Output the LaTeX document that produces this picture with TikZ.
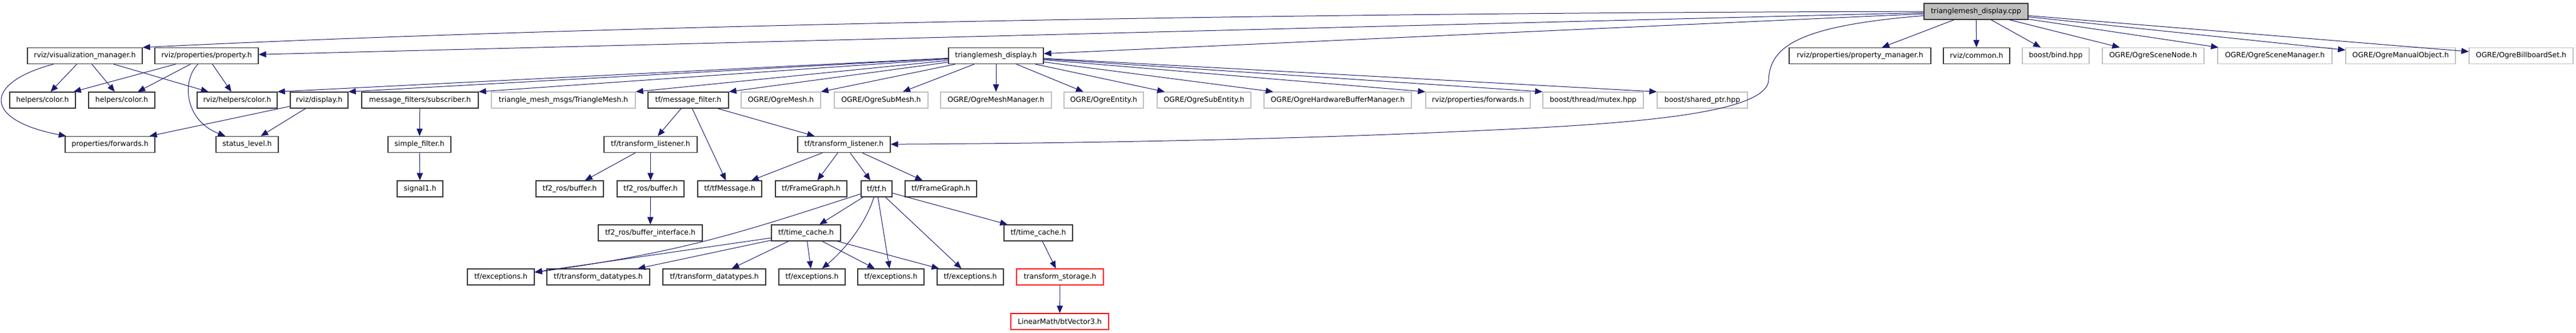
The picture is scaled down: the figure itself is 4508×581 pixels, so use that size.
\documentclass[tikz,border=0pt]{standalone}
\usepackage{fontspec}
\setmainfont{DejaVu Sans}
\usetikzlibrary{arrows.meta}
\definecolor{edgeblue}{HTML}{191970}
\definecolor{grayb}{HTML}{BFBFBF}
\definecolor{redb}{HTML}{FF0000}
\definecolor{boxline}{HTML}{333333}
\begin{document}
\begin{tikzpicture}[x=1pt,y=-1pt,
  box/.style={draw=boxline, line width=1.3pt, fill=white, minimum height=28pt, inner sep=0pt, font=\fontsize{12.5}{15}\selectfont, text=black},
  gbox/.style={box, draw=grayb},
  rbox/.style={box, draw=redb},
  edge/.style={draw=edgeblue, line width=1pt, -{Triangle[length=13pt,width=10.5pt]}}]
\fill[white] (0,0) rectangle (4508,581);
\useasboundingbox (0,0) rectangle (4508,581);
% row A
\node[box, fill=grayb, minimum width=182pt] (cpp) at (3458,20) {trianglemesh\_display.cpp};
% row B
\node[box, minimum width=201pt] (vm) at (148.5,97.5) {rviz/visualization\_manager.h};
\node[box, minimum width=181pt] (prop) at (361.5,97.5) {rviz/properties/property.h};
\node[box, minimum width=166pt] (tmd) at (1743,97.5) {trianglemesh\_display.h};
\node[box, minimum width=248pt] (pm) at (3255,97.5) {rviz/properties/property\_manager.h};
\node[box, minimum width=116pt] (common) at (3459,97.5) {rviz/common.h};
\node[gbox, minimum width=117pt] (bind) at (3597.5,97.5) {boost/bind.hpp};
\node[gbox, minimum width=178pt] (scenenode) at (3768,97.5) {OGRE/OgreSceneNode.h};
\node[gbox, minimum width=200pt] (scenemgr) at (3981,97.5) {OGRE/OgreSceneManager.h};
\node[gbox, minimum width=192pt] (manual) at (4201,97.5) {OGRE/OgreManualObject.h};
\node[gbox, minimum width=182pt] (billboard) at (4412,97.5) {OGRE/OgreBillboardSet.h};
% row C
\node[box, minimum width=115pt] (hc1) at (74.5,175) {helpers/color.h};
\node[box, minimum width=116pt] (hc2) at (213,175) {helpers/color.h};
\node[box, minimum width=140pt] (rhc) at (415,175) {rviz/helpers/color.h};
\node[box, minimum width=101pt] (disp) at (558.5,175) {rviz/display.h};
\node[box, minimum width=204pt] (sub) at (735,175) {message\_filters/subscriber.h};
\node[gbox, minimum width=252pt] (tmsg) at (986,175) {triangle\_mesh\_msgs/TriangleMesh.h};
\node[box, minimum width=141pt] (mf) at (1204.5,175) {tf/message\_filter.h};
\node[gbox, minimum width=139pt] (mesh) at (1366.5,175) {OGRE/OgreMesh.h};
\node[gbox, minimum width=164pt] (submesh) at (1542,175) {OGRE/OgreSubMesh.h};
\node[gbox, minimum width=194pt] (meshmgr) at (1743,175) {OGRE/OgreMeshManager.h};
\node[gbox, minimum width=139pt] (entity) at (1931.5,175) {OGRE/OgreEntity.h};
\node[gbox, minimum width=164pt] (subentity) at (2107,175) {OGRE/OgreSubEntity.h};
\node[gbox, minimum width=258pt] (hwbuf) at (2341,175) {OGRE/OgreHardwareBufferManager.h};
\node[gbox, minimum width=183pt] (rpf) at (2586.5,175) {rviz/properties/forwards.h};
\node[gbox, minimum width=176pt] (mutex) at (2788,175) {boost/thread/mutex.hpp};
\node[gbox, minimum width=158pt] (sptr) at (2979,175) {boost/shared\_ptr.hpp};
% row D
\node[box, minimum width=157pt] (pf) at (192.5,252.5) {properties/forwards.h};
\node[box, minimum width=109pt] (sl) at (432.5,252.5) {status\_level.h};
\node[box, minimum width=110pt] (sf) at (734,252.5) {simple\_filter.h};
\node[box, minimum width=163pt] (tl1) at (1138.5,252.5) {tf/transform\_listener.h};
\node[box, minimum width=162pt] (tl2) at (1477,252.5) {tf/transform\_listener.h};
% row E
\node[box, minimum width=80pt] (sig) at (735,330) {signal1.h};
\node[box, minimum width=118pt] (b1) at (997,330) {tf2\_ros/buffer.h};
\node[box, minimum width=117pt] (b2) at (1138.5,330) {tf2\_ros/buffer.h};
\node[box, minimum width=112pt] (tfm) at (1277,330) {tf/tfMessage.h};
\node[box, minimum width=125pt] (fg1) at (1419.5,330) {tf/FrameGraph.h};
\node[box, minimum width=54pt] (tf) at (1534,330) {tf/tf.h};
\node[box, minimum width=125pt] (fg2) at (1646.5,330) {tf/FrameGraph.h};
% row F
\node[box, minimum width=182pt] (bi) at (1138,407) {tf2\_ros/buffer\_interface.h};
\node[box, minimum width=121pt] (tc1) at (1410.5,407) {tf/time\_cache.h};
\node[box, minimum width=120pt] (tc2) at (1817,407) {tf/time\_cache.h};
% row G
\node[box, minimum width=117pt] (ex1) at (876.5,484) {tf/exceptions.h};
\node[box, minimum width=180pt] (td1) at (1047,484) {tf/transform\_datatypes.h};
\node[box, minimum width=180pt] (td2) at (1250,484) {tf/transform\_datatypes.h};
\node[box, minimum width=116pt] (ex2) at (1421,484) {tf/exceptions.h};
\node[box, minimum width=116pt] (ex3) at (1559,484) {tf/exceptions.h};
\node[box, minimum width=116pt] (ex4) at (1698,484) {tf/exceptions.h};
\node[rbox, minimum width=152pt] (ts) at (1855,484) {transform\_storage.h};
% row H
\node[rbox, minimum width=171pt] (lm) at (1854.5,562) {LinearMath/btVector3.h};
% edges from cpp
\draw[edge] (cpp) .. controls (2200,22) and (1000,46) .. (vm.north east);
\draw[edge] (cpp) -- (prop);
\draw[edge] (cpp) -- (tmd);
\draw[edge] (cpp) .. controls (3150,45) and (3097,80) .. (3095,140) .. controls (3092,205) and (2800,219) .. (2550,230) .. controls (2200,246) and (1800,251) .. (tl2);
\draw[edge] (cpp) -- (pm);
\draw[edge] (cpp) -- (common);
\draw[edge] (cpp) -- (bind);
\draw[edge] (cpp) -- (scenenode);
\draw[edge] (cpp) -- (scenemgr);
\draw[edge] (cpp) -- (manual);
\draw[edge] (cpp) -- (billboard);
% vm
\draw[edge] (vm) .. controls (-30,145) and (-30,210) .. (pf);
\draw[edge] (vm) -- (hc1);
\draw[edge] (vm) -- (hc2);
\draw[edge] (vm) -- (rhc);
% prop
\draw[edge] (prop) -- (hc1);
\draw[edge] (prop) -- (hc2);
\draw[edge] (prop) -- (rhc);
\draw[edge] (prop) .. controls (318,140) and (322,210) .. (sl);
% tmd
\draw[edge] (tmd) -- (rhc.north east);
\draw[edge] (tmd) -- (disp.north east);
\draw[edge] (tmd) -- (sub.north east);
\draw[edge] (tmd) -- (tmsg.north east);
\draw[edge] (tmd) -- (mf.north east);
\draw[edge] (tmd) -- (mesh.north east);
\draw[edge] (tmd) -- (submesh);
\draw[edge] (tmd) -- (meshmgr);
\draw[edge] (tmd) -- (entity);
\draw[edge] (tmd) -- (subentity);
\draw[edge] (tmd) -- (hwbuf);
\draw[edge] (tmd) -- (rpf.north west);
\draw[edge] (tmd) -- (mutex.north west);
\draw[edge] (tmd) -- (sptr.north west);
% display
\draw[edge] (disp) -- (pf);
\draw[edge] (disp) -- (sl);
% subscriber chain
\draw[edge] (sub) -- (sf);
\draw[edge] (sf) -- (sig);
% message filter
\draw[edge] (mf) -- (tl1);
\draw[edge] (mf) -- (tfm);
\draw[edge] (mf) -- (tl2);
% transform listener 1
\draw[edge] (tl1) -- (b1);
\draw[edge] (tl1) -- (b2);
\draw[edge] (b2) -- (bi);
% transform listener 2
\draw[edge] (tl2) -- (tfm);
\draw[edge] (tl2) -- (fg1);
\draw[edge] (tl2) -- (tf);
\draw[edge] (tl2) -- (fg2);
% tf
\draw[edge] (tf) .. controls (1300,405) and (1200,440) .. (ex1);
\draw[edge] (tf) -- (tc1);
\draw[edge] (tf) .. controls (1515,390) and (1480,435) .. (ex2);
\draw[edge] (tf) -- (ex3);
\draw[edge] (tf) -- (ex4);
\draw[edge] (tf) -- (tc2);
% time cache 1
\draw[edge] (tc1) -- (ex1);
\draw[edge] (tc1) -- (td1);
\draw[edge] (tc1) -- (td2);
\draw[edge] (tc1) -- (ex2);
\draw[edge] (tc1) -- (ex3);
\draw[edge] (tc1) -- (ex4);
% time cache 2
\draw[edge] (tc2) -- (ts);
\draw[edge] (ts) -- (lm);
\end{tikzpicture}
\end{document}
